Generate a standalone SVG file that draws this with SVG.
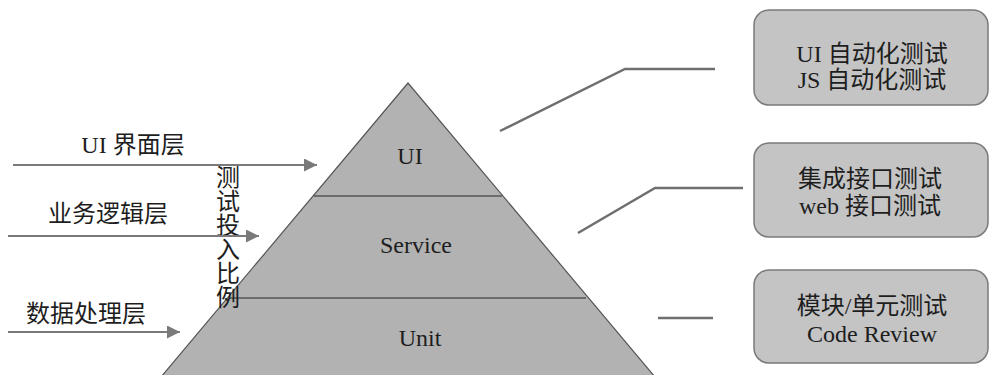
<svg xmlns="http://www.w3.org/2000/svg" width="991" height="375" viewBox="0 0 991 375">
<defs>
<style>
text{font-family:"Liberation Serif","Noto Sans CJK SC",serif;font-size:24px;fill:#1e1e1e}
.box{fill:#c4c4c4;stroke:#7a7a7a;stroke-width:1.5}
.conn{stroke:#6f6f6f;stroke-width:2.5;fill:none}
.arrow{stroke:#7a7a7a;stroke-width:2;fill:none;marker-end:url(#ah)}
.layer{stroke:#555;stroke-width:1.5}
</style>
<marker id="ah" viewBox="0 0 10 10" refX="10" refY="5" markerWidth="7.5" markerHeight="6.5" markerUnits="strokeWidth" orient="auto">
<path d="M0,0 L10,5 L0,10 Z" fill="#7a7a7a"/>
</marker>
</defs>
<rect width="991" height="375" fill="#ffffff"/>
<g id="pyramid">
<polygon points="408,83 140,402 676,402" fill="#b2b2b2" stroke="#555" stroke-width="1.2"/>
<line class="layer" x1="314" y1="196" x2="502" y2="196"/>
<line class="layer" x1="229" y1="298" x2="586" y2="298"/>
<text x="410" y="164" text-anchor="middle">UI</text>
<text x="416" y="253" text-anchor="middle">Service</text>
<text x="420" y="346" text-anchor="middle">Unit</text>
</g>
<g id="layer-labels">
<text x="133" y="153" text-anchor="middle">UI 界面层</text>
<text x="108" y="222" text-anchor="middle">业务逻辑层</text>
<text x="86" y="322" text-anchor="middle">数据处理层</text>
</g>
<g id="ratio-label">
<text text-anchor="middle"><tspan x="228" y="186">测</tspan><tspan x="228" y="210">试</tspan><tspan x="228" y="234">投</tspan><tspan x="228" y="258">入</tspan><tspan x="228" y="282">比</tspan><tspan x="228" y="306">例</tspan></text>
</g>
<g id="box-ui">
<rect class="box" x="754" y="10" width="234" height="95" rx="15"/>
<text x="872" y="62" text-anchor="middle">UI 自动化测试</text>
<text x="872" y="88" text-anchor="middle">JS 自动化测试</text>
</g>
<g id="box-service">
<rect class="box" x="754" y="143" width="234" height="94" rx="15"/>
<text x="870" y="187" text-anchor="middle">集成接口测试</text>
<text x="870" y="214" text-anchor="middle">web 接口测试</text>
</g>
<g id="box-unit">
<rect class="box" x="754" y="270" width="234" height="93" rx="15"/>
<text x="872" y="314" text-anchor="middle">模块/单元测试</text>
<text x="872" y="342" text-anchor="middle">Code Review</text>
</g>
<g id="connectors">
<line class="arrow" x1="13" y1="165" x2="317" y2="165"/>
<line class="arrow" x1="8" y1="236" x2="259" y2="236"/>
<line class="arrow" x1="8" y1="332" x2="180" y2="332"/>
<polyline class="conn" points="500,131 625,69 715,69"/>
<polyline class="conn" points="578,233 655,188 743,188"/>
<line class="conn" x1="658" y1="318" x2="713" y2="318"/>
</g>
</svg>
